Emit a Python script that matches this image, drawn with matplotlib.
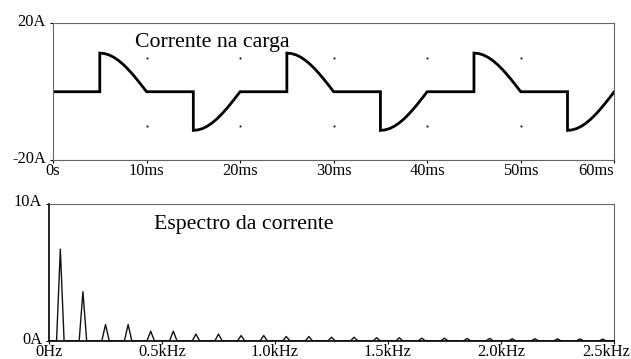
import numpy as np
import matplotlib
matplotlib.use("Agg")
import matplotlib.pyplot as plt
from matplotlib.transforms import ScaledTranslation

plt.rcParams['font.family'] = ['Liberation Serif', 'DejaVu Serif']

# --- top: load current, one pulse shape (ms offset, A)
pulse_t = [0.0, 0.5, 1.0, 1.5, 2.0, 2.5, 3.0, 3.5, 4.0, 4.5, 5.0]
pulse_i = [11.3, 11.16, 10.75, 10.07, 9.14, 7.99, 6.64, 5.13, 3.49, 1.77, 0.0]
pulse_start = [5, 15, 25, 35, 45, 55]
pulse_sign = [1, -1, 1, -1, 1, -1]
t_ticks = [0, 10, 20, 30, 40, 50, 60]
t_labels = ['0s', '10ms', '20ms', '30ms', '40ms', '50ms', '60ms']

# --- bottom: spectrum, odd harmonics of 50 Hz
harm_f = [50, 150, 250, 350, 450, 550, 650, 750, 850, 950, 1050, 1150, 1250,
          1350, 1450, 1550, 1650, 1750, 1850, 1950, 2050, 2150, 2250, 2350, 2450]
harm_a = [6.70, 3.60, 1.20, 1.20, 0.72, 0.72, 0.51, 0.51, 0.40, 0.40, 0.33, 0.33,
          0.28, 0.28, 0.24, 0.24, 0.21, 0.21, 0.19, 0.19, 0.17, 0.17, 0.16, 0.16, 0.14]
f_ticks = [0, 500, 1000, 1500, 2000, 2500]
f_labels = ['0Hz', '0.5kHz', '1.0kHz', '1.5kHz', '2.0kHz', '2.5kHz']
df = 1000 / 60.0  # fft resolution of a 60 ms window

# build the waveform
t = [0.0]
i = [0.0]
for s, sg in zip(pulse_start, pulse_sign):
    t.append(s)
    i.append(0.0)
    for pt, pv in zip(pulse_t, pulse_i):
        t.append(s + pt)
        i.append(sg * pv)
t.append(60)
i.append(0.0)

# build the spectrum trace
fx = [0.0]
fy = [0.0]
for f, a in zip(harm_f, harm_a):
    fx += [f - df, f, f + df]
    fy += [0.0, a, 0.0]
fx.append(2500)
fy.append(0.0)

fig = plt.figure(figsize=(6.31, 3.59), dpi=100)
ax1 = fig.add_axes([0.084, 0.554, 0.8895, 0.381])
ax2 = fig.add_axes([0.0777, 0.05, 0.8953, 0.382])

ax1.plot(t, i, color='black', lw=2.0, solid_joinstyle='miter')
gx, gy = np.meshgrid(t_ticks[1:-1], [-10, 10])
ax1.plot(gx.ravel(), gy.ravel(), ls='none', marker='s', ms=1.3, color='black', mew=0)
ax1.set_xlim(0, 60)
ax1.set_ylim(-20, 20)
ax1.set_xticks(t_ticks)
ax1.set_xticklabels(t_labels)
ax1.set_yticks([-20, 20])
ax1.set_yticklabels(['-20A', '20A'])
ax1.text(8.77, 13.1, 'Corrente na carga', fontsize=15.7, va='baseline')
for sp in ax1.spines.values():
    sp.set_color('#666666')
    sp.set_linewidth(0.8)

ax2.plot(fx, fy, color='#111111', lw=1.0)
ax2.set_xlim(0, 2500)
ax2.set_ylim(0, 10)
ax2.set_xticks(f_ticks)
ax2.set_xticklabels(f_labels)
ax2.set_yticks([0, 10])
ax2.set_yticklabels(['0A', '10A'])
ax2.text(464, 8.16, 'Espectro da corrente', fontsize=15.7, va='baseline')
for k in ['top', 'right']:
    ax2.spines[k].set_color('#666666')
    ax2.spines[k].set_linewidth(0.8)
for k in ['left', 'bottom']:
    ax2.spines[k].set_color('black')
    ax2.spines[k].set_linewidth(1.2)

lift = ScaledTranslation(0, 1.5 / 100, fig.dpi_scale_trans)
for ax in (ax1, ax2):
    ax.tick_params(axis='x', labelsize=11.8, length=2, width=0.8, pad=0)
    ax.tick_params(axis='y', labelsize=11.8, length=2, width=0.8, pad=3)
    for lb in ax.get_yticklabels():
        lb.set_verticalalignment('center')
        lb.set_transform(lb.get_transform() + lift)

# last x labels are pulled inside the figure, as in the picture
ax1.get_xticklabels()[-1].set_horizontalalignment('right')
last = ax2.get_xticklabels()[-1]
last.set_horizontalalignment('right')
last.set_transform(last.get_transform() + ScaledTranslation(16 / 100, 0, fig.dpi_scale_trans))

fig.savefig('out.png', dpi=100)
